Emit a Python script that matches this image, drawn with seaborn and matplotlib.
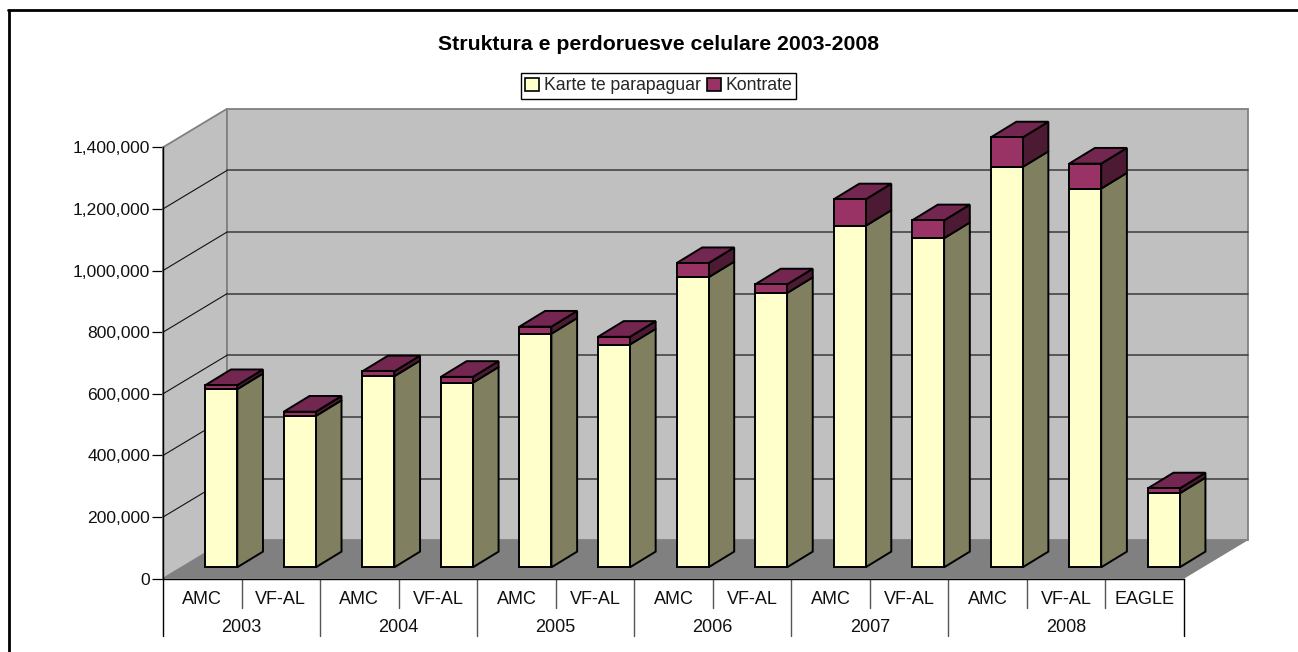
import matplotlib
matplotlib.use("Agg")
import matplotlib.pyplot as plt
from matplotlib.patches import Polygon, Patch
import numpy as np
import pandas as pd
import seaborn as sns

years = ["2003", "2004", "2005", "2006", "2007", "2008"]
operators = ["AMC", "VF-AL", "AMC", "VF-AL", "AMC", "VF-AL", "AMC", "VF-AL",
             "AMC", "VF-AL", "AMC", "VF-AL", "EAGLE"]
year_of_bar = ["2003", "2003", "2004", "2004", "2005", "2005", "2006", "2006",
               "2007", "2007", "2008", "2008", "2008"]
prepaid = [578000, 491000, 620000, 599000, 758000, 723000, 941000, 890000,
           1108000, 1068000, 1299000, 1229000, 240000]
contract = [13000, 14000, 16000, 19000, 23000, 25000, 46000, 28000,
            86000, 58000, 96000, 81000, 16000]
series_names = ["Karte te parapaguar", "Kontrate"]
title = "Struktura e perdoruesve celulare 2003-2008"

W, H = 1298, 652
FONT = "Liberation Sans"
CREAM, CREAM_SIDE = "#FFFFCC", "#808060"
PLUM, PLUM_TOP, PLUM_SIDE = "#993366", "#732650", "#4D1A33"
WALL, FLOOR, EDGE = "#C0C0C0", "#808080", "#808080"

sns.set_theme(style="white")
plt.rcParams["font.family"] = [FONT, "DejaVu Sans"]

L, R, T, B = 163.0, 1184.0, 147.3, 578.7
YMAX = 1400000
fig = plt.figure(figsize=(W / 100, H / 100), dpi=100, facecolor="white")
ax = fig.add_axes([L / W, (H - B) / H, (R - L) / W, (B - T) / H])
ax.patch.set_alpha(0)

n = len(operators)
px_x = n / (R - L)
px_y = YMAX / (B - T)

# 3D projection offsets (pixel sizes turned into data units)
WALL_DX, WALL_DY = 64 * px_x, 38.5 * px_y
FRONT_DX, FRONT_DY = 19 * px_x, 11.4 * px_y
BAR_DX, BAR_DY = 25.7 * px_x, 15.7 * px_y
BAR_W = 32 * px_x

df = pd.DataFrame({
    "slot": [f"{y} {o}" for y, o in zip(year_of_bar, operators)],
    "prepaid": prepaid,
    "contract": contract,
})

bar_kw = dict(width=BAR_W, saturation=1, edgecolor="black", linewidth=1.4,
              clip_on=False, zorder=6, ax=ax)
sns.barplot(data=df, x="slot", y="prepaid", color=CREAM, **bar_kw)
sns.barplot(data=df, x="slot", y="contract", color=PLUM, bottom=df["prepaid"].to_numpy(), **bar_kw)
for p in ax.patches:
    p.set_x(p.get_x() + FRONT_DX)
    p.set_y(p.get_y() + FRONT_DY)
    p.set_joinstyle("miter")

ax.set_xlim(-0.5, n - 0.5)
ax.set_ylim(0, YMAX)


def face(pts, fc, ec="black", lw=1.4, z=5):
    ax.add_patch(Polygon(pts, closed=True, facecolor=fc, edgecolor=ec, linewidth=lw,
                         clip_on=False, zorder=z, joinstyle="miter"))


# walls and floor
x0, x1 = -0.5, n - 0.5
face([(x0, 0), (x0 + WALL_DX, WALL_DY), (x0 + WALL_DX, YMAX + WALL_DY), (x0, YMAX)], WALL, EDGE, 1.3, 1)
face([(x0 + WALL_DX, WALL_DY), (x1 + WALL_DX, WALL_DY), (x1 + WALL_DX, YMAX + WALL_DY),
      (x0 + WALL_DX, YMAX + WALL_DY)], WALL, EDGE, 1.3, 1)
face([(x0, 0), (x1, 0), (x1 + WALL_DX, WALL_DY), (x0 + WALL_DX, WALL_DY)], FLOOR, "none", 0, 2)

yticks = np.arange(0, YMAX + 1, 200000)
for v in yticks[1:-1]:
    ax.plot([x0 + WALL_DX, x1 + WALL_DX], [v + WALL_DY] * 2, color="#3A3A3A", lw=1.1,
            clip_on=False, zorder=3, scalex=False, scaley=False)
    ax.plot([x0, x0 + WALL_DX], [v, v + WALL_DY], color="#111111", lw=0.8,
            clip_on=False, zorder=3, scalex=False, scaley=False)

# bar sides and tops
for i in range(n):
    xr = i + BAR_W / 2 + FRONT_DX
    xl = i - BAR_W / 2 + FRONT_DX
    y0 = FRONT_DY
    y1 = y0 + prepaid[i]
    y2 = y1 + contract[i]
    face([(xr, y0), (xr + BAR_DX, y0 + BAR_DY), (xr + BAR_DX, y1 + BAR_DY), (xr, y1)], CREAM_SIDE)
    face([(xr, y1), (xr + BAR_DX, y1 + BAR_DY), (xr + BAR_DX, y2 + BAR_DY), (xr, y2)], PLUM_SIDE)
    face([(xl, y2), (xr, y2), (xr + BAR_DX, y2 + BAR_DY), (xl + BAR_DX, y2 + BAR_DY)], PLUM_TOP)

# axes
sns.despine(ax=ax, top=True, right=True)
for s in ("left", "bottom"):
    ax.spines[s].set_color("black")
    ax.spines[s].set_linewidth(1.0)
    ax.spines[s].set_zorder(4)
ax.set_xlabel("")
ax.set_ylabel("")
ax.set_yticks(yticks)
ax.set_yticklabels([f"{v:,.0f}" for v in yticks], fontsize=12.6, color="#111111")
ax.tick_params(axis="y", left=True, length=7.6, width=0.9, color="black", pad=1.5)
ax.set_xticks(range(n))
ax.set_xticklabels(operators, fontsize=13, color="#111111")
ax.tick_params(axis="x", bottom=False, length=0, pad=8.5)

# two-level category separators
short, tall = -29 * px_y, -57.5 * px_y
for i in range(n + 1):
    pos = i - 0.5
    outer = i in (0, n)
    first_of_year = outer or year_of_bar[i] != year_of_bar[i - 1]
    ax.plot([pos, pos], [0, tall if first_of_year else short],
            color="black" if outer else "#555555", lw=1.0,
            clip_on=False, zorder=4, scalex=False, scaley=False)
for y in years:
    idx = [i for i, v in enumerate(year_of_bar) if v == y]
    ax.text(np.mean(idx), -49 * px_y, y, ha="center", va="center",
            fontsize=13, color="#111111", clip_on=False)

# title, legend, outer frame
fig.text(659 / W, 1 - 44.5 / H, title, ha="center", va="center", fontsize=15.3,
         fontweight="bold", color="black")
handles = [Patch(facecolor=CREAM, edgecolor="black", linewidth=1.2, label=series_names[0]),
           Patch(facecolor=PLUM, edgecolor="black", linewidth=1.2, label=series_names[1])]
leg = fig.legend(handles=handles, loc="center", bbox_to_anchor=(658.5 / W, 1 - 86 / H), ncol=2,
                 fontsize=12.7, frameon=True, fancybox=False, shadow=False, framealpha=1,
                 edgecolor="black", handlelength=0.8, handleheight=0.8, handletextpad=0.25,
                 columnspacing=0.35, borderpad=0.25, borderaxespad=0)
leg.get_frame().set_linewidth(1.0)
fig.add_artist(plt.Line2D([9 / W, 9 / W], [0, 1 - 10 / H], transform=fig.transFigure, color="black", lw=2))
fig.add_artist(plt.Line2D([8 / W, 1], [1 - 10 / H, 1 - 10 / H], transform=fig.transFigure, color="black", lw=2))

fig.savefig("out.png", dpi=100)
